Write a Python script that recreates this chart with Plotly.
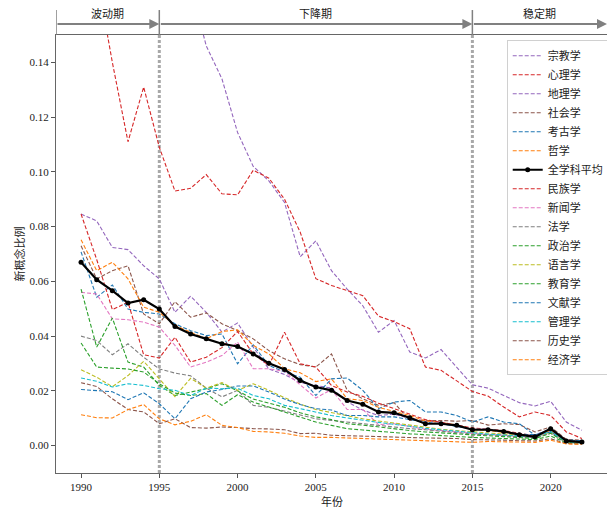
import plotly.graph_objects as go

years = list(range(1990, 2023))

宗教学 = [0.30, 0.29, 0.28, 0.27, 0.25, 0.23, 0.21, 0.168, 0.146, 0.134, 0.1144, 0.102, 0.0967, 0.0888, 0.069, 0.0748, 0.0639, 0.0572, 0.0511, 0.0414, 0.0457, 0.0342, 0.032, 0.0351, 0.0287, 0.0222, 0.021, 0.0183, 0.0157, 0.0145, 0.0162, 0.0086, 0.0056]
心理学 = [0.200, 0.172, 0.140, 0.111, 0.131, 0.109, 0.093, 0.094, 0.099, 0.092, 0.0916, 0.1006, 0.0977, 0.090, 0.078, 0.061, 0.0585, 0.0566, 0.0548, 0.0473, 0.0453, 0.0427, 0.0287, 0.0275, 0.0238, 0.0198, 0.0181, 0.0141, 0.0105, 0.0123, 0.011, 0.005, 0.0026]
地理学 = [0.0846, 0.0821, 0.0724, 0.0716, 0.0657, 0.0609, 0.0487, 0.0546, 0.0487, 0.0415, 0.0448, 0.036, 0.028, 0.026, 0.023, 0.022, 0.021, 0.016, 0.013, 0.011, 0.0115, 0.010, 0.009, 0.0085, 0.007, 0.006, 0.006, 0.005, 0.004, 0.004, 0.006, 0.002, 0.0015]
社会学 = [0.073, 0.0609, 0.0639, 0.0657, 0.0481, 0.0445, 0.0526, 0.0469, 0.0485, 0.0445, 0.042, 0.039, 0.0347, 0.0317, 0.0296, 0.0287, 0.0335, 0.0202, 0.0171, 0.0147, 0.0157, 0.0092, 0.0092, 0.0092, 0.0089, 0.0092, 0.0075, 0.008, 0.0077, 0.005, 0.0068, 0.0023, 0.002]
考古学 = [0.0708, 0.0542, 0.0587, 0.0499, 0.0487, 0.0481, 0.0445, 0.042, 0.0402, 0.0408, 0.0299, 0.0368, 0.0293, 0.0269, 0.025, 0.0183, 0.0244, 0.0247, 0.0202, 0.0135, 0.0159, 0.0165, 0.0123, 0.0123, 0.011, 0.0086, 0.0105, 0.0086, 0.008, 0.0038, 0.006, 0.002, 0.0018]
哲学 = [0.0752, 0.0639, 0.067, 0.0609, 0.0506, 0.0487, 0.0439, 0.0414, 0.039, 0.0417, 0.0423, 0.0366, 0.0335, 0.0281, 0.0266, 0.0234, 0.0244, 0.0171, 0.0165, 0.014, 0.0125, 0.011, 0.009, 0.0085, 0.0075, 0.006, 0.0055, 0.0048, 0.004, 0.0035, 0.0055, 0.002, 0.0012]
全学科平均 = [0.067, 0.0606, 0.0566, 0.0521, 0.0533, 0.0499, 0.0435, 0.0408, 0.039, 0.0372, 0.0362, 0.0335, 0.0301, 0.0278, 0.0238, 0.0214, 0.0202, 0.0165, 0.0151, 0.0123, 0.012, 0.0102, 0.008, 0.008, 0.0074, 0.0058, 0.0058, 0.0052, 0.004, 0.0032, 0.0062, 0.0017, 0.0013]
民族学 = [0.0846, 0.068, 0.0497, 0.0524, 0.0332, 0.032, 0.0396, 0.0305, 0.0323, 0.0358, 0.0417, 0.0335, 0.0293, 0.0414, 0.0299, 0.0287, 0.022, 0.0196, 0.018, 0.0155, 0.0135, 0.0115, 0.0095, 0.0085, 0.0075, 0.0065, 0.006, 0.0055, 0.0045, 0.0035, 0.006, 0.002, 0.0012]
新闻学 = [0.056, 0.0554, 0.0463, 0.046, 0.0451, 0.0433, 0.0366, 0.0287, 0.0305, 0.0329, 0.0378, 0.0281, 0.0281, 0.0271, 0.0222, 0.0174, 0.0205, 0.0132, 0.0132, 0.0077, 0.008, 0.007, 0.006, 0.0055, 0.005, 0.0045, 0.004, 0.0038, 0.0032, 0.003, 0.005, 0.0015, 0.001]
法学 = [0.040, 0.0384, 0.0332, 0.0372, 0.0323, 0.028, 0.0265, 0.0255, 0.021, 0.0178, 0.0202, 0.0147, 0.014, 0.0125, 0.0112, 0.0098, 0.0092, 0.0085, 0.0078, 0.0072, 0.0068, 0.0062, 0.0058, 0.0052, 0.0048, 0.0042, 0.004, 0.0036, 0.0032, 0.003, 0.0045, 0.0012, 0.001]
政治学 = [0.0572, 0.036, 0.0466, 0.0305, 0.0287, 0.022, 0.0183, 0.0196, 0.0208, 0.0226, 0.020, 0.017, 0.0155, 0.014, 0.012, 0.0105, 0.0095, 0.008, 0.0075, 0.0068, 0.006, 0.0055, 0.005, 0.0046, 0.0042, 0.0038, 0.0036, 0.0033, 0.003, 0.0026, 0.0045, 0.0012, 0.001]
语言学 = [0.0277, 0.025, 0.0215, 0.0256, 0.0308, 0.0244, 0.0179, 0.0246, 0.021, 0.023, 0.0202, 0.0226, 0.0202, 0.0175, 0.0152, 0.0132, 0.012, 0.0108, 0.0098, 0.009, 0.0082, 0.0075, 0.0068, 0.006, 0.0055, 0.005, 0.0046, 0.0042, 0.0038, 0.0034, 0.005, 0.0015, 0.0012]
教育学 = [0.0375, 0.0287, 0.0283, 0.028, 0.0269, 0.0226, 0.0192, 0.0183, 0.019, 0.0147, 0.0186, 0.0159, 0.0141, 0.0123, 0.0104, 0.0086, 0.0074, 0.0062, 0.0057, 0.0052, 0.0047, 0.0043, 0.004, 0.0036, 0.0033, 0.003, 0.0028, 0.0026, 0.0024, 0.0022, 0.0035, 0.001, 0.0008]
文献学 = [0.0205, 0.0201, 0.0197, 0.0168, 0.0193, 0.0153, 0.0098, 0.0171, 0.0196, 0.0205, 0.0218, 0.0218, 0.0196, 0.017, 0.015, 0.0135, 0.013, 0.011, 0.011, 0.0105, 0.0105, 0.0095, 0.0085, 0.008, 0.007, 0.006, 0.006, 0.005, 0.0042, 0.004, 0.005, 0.002, 0.0018]
管理学 = [0.0247, 0.0235, 0.0214, 0.0226, 0.022, 0.0208, 0.0202, 0.0183, 0.021, 0.0208, 0.021, 0.0183, 0.0171, 0.0147, 0.0135, 0.0123, 0.011, 0.0101, 0.0092, 0.0085, 0.0078, 0.007, 0.0063, 0.0058, 0.0052, 0.0046, 0.0042, 0.0039, 0.0035, 0.0032, 0.0052, 0.0014, 0.0011]
历史学 = [0.023, 0.0216, 0.0171, 0.0132, 0.0123, 0.008, 0.0098, 0.0066, 0.0064, 0.0068, 0.0066, 0.0062, 0.0061, 0.0058, 0.0044, 0.0045, 0.0038, 0.0036, 0.0034, 0.0032, 0.003, 0.0029, 0.0028, 0.0027, 0.0026, 0.0022, 0.0022, 0.002, 0.0018, 0.0017, 0.0025, 0.0008, 0.0006]
经济学 = [0.0113, 0.0102, 0.0101, 0.0132, 0.015, 0.0098, 0.0076, 0.0089, 0.0113, 0.0074, 0.0066, 0.0052, 0.005, 0.0045, 0.0035, 0.003, 0.003, 0.0028, 0.0026, 0.0024, 0.0022, 0.002, 0.0019, 0.0018, 0.0016, 0.0012, 0.0015, 0.0014, 0.0013, 0.0012, 0.002, 0.0006, 0.0005]

subjects = [
    ("宗教学", 宗教学, "#9467bd"),
    ("心理学", 心理学, "#d62728"),
    ("地理学", 地理学, "#9467bd"),
    ("社会学", 社会学, "#8c564b"),
    ("考古学", 考古学, "#1f77b4"),
    ("哲学", 哲学, "#ff7f0e"),
    ("全学科平均", 全学科平均, "#000000"),
    ("民族学", 民族学, "#d62728"),
    ("新闻学", 新闻学, "#e377c2"),
    ("法学", 法学, "#7f7f7f"),
    ("政治学", 政治学, "#2ca02c"),
    ("语言学", 语言学, "#bcbd22"),
    ("教育学", 教育学, "#2ca02c"),
    ("文献学", 文献学, "#1f77b4"),
    ("管理学", 管理学, "#17becf"),
    ("历史学", 历史学, "#8c564b"),
    ("经济学", 经济学, "#ff7f0e"),
]

periods = ["波动期", "下降期", "稳定期"]
period_bounds = [1988.4, 1995, 2015, 2023.6]

FONT = "'Liberation Serif', 'Times New Roman', 'Noto Sans CJK SC', serif"

fig = go.Figure()
avg_item = None
for rank, (name, vals, color) in enumerate(subjects):
    if name == "全学科平均":
        avg_item = (rank, name, vals, color)
        continue
    fig.add_trace(go.Scatter(
        x=years, y=vals, name=name, mode="lines",
        line=dict(color=color, width=1.1, dash="4px,2px"),
        legendrank=rank + 1,
    ))
rank, name, vals, color = avg_item
fig.add_trace(go.Scatter(
    x=years, y=vals, name=name, mode="lines+markers",
    line=dict(color=color, width=2.2),
    marker=dict(size=5, color=color),
    legendrank=rank + 1,
))

# dotted period separators
for xv in [1995, 2015]:
    fig.add_shape(type="line", xref="x", yref="paper", x0=xv, x1=xv, y0=0, y1=1,
                  line=dict(color="#a8a8a8", width=3, dash="3px,2px"), layer="below")

# top period bars, arrows and labels
bar_top = 1.057
arrow_y = 1.025
for xv in period_bounds[:3]:
    fig.add_shape(type="line", xref="x", yref="paper", x0=xv, x1=xv, y0=1.0, y1=bar_top,
                  line=dict(color="#808080", width=1.5))
for i, label in enumerate(periods):
    x0, x1 = period_bounds[i], period_bounds[i + 1]
    fig.add_annotation(x=x1, y=arrow_y, xref="x", yref="paper",
                       ax=x0, ay=0, axref="x", ayref="pixel",
                       text="", showarrow=True, arrowhead=2, arrowsize=1,
                       arrowwidth=2, arrowcolor="#808080", standoff=0, startstandoff=0)
    fig.add_annotation(x=(x0 + x1) / 2, y=1.049, xref="x", yref="paper",
                       text=label, showarrow=False, yanchor="middle",
                       font=dict(family=FONT, size=11, color="#222222"))

# axis titles
fig.add_annotation(x=0.5, y=-0.066, xref="paper", yref="paper", text="年份",
                   showarrow=False, yanchor="middle",
                   font=dict(family=FONT, size=11, color="#222222"))
fig.add_annotation(x=-0.068, y=0.5, xref="paper", yref="paper", text="新概念比例",
                   showarrow=False, textangle=-90, xanchor="center",
                   font=dict(family=FONT, size=11, color="#222222"))

fig.update_layout(
    width=607, height=509,
    margin=dict(l=56, r=0, t=35, b=36, autoexpand=False),
    paper_bgcolor="white", plot_bgcolor="white",
    font=dict(family=FONT, size=11, color="#222222"),
    showlegend=True,
    legend=dict(
        x=0.818, y=0.988, xanchor="left", yanchor="top",
        bgcolor="rgba(255,255,255,0.85)", bordercolor="#d0d0d0", borderwidth=1,
        font=dict(family=FONT, size=11, color="#222222"),
        itemwidth=30, tracegroupgap=0,
    ),
    xaxis=dict(
        range=[1988.4, 2023.6], tickmode="array",
        tickvals=[1990, 1995, 2000, 2005, 2010, 2015, 2020],
        ticks="outside", ticklen=4, tickcolor="#555555",
        showline=True, linecolor="#666666", linewidth=1, mirror=True,
        showgrid=False, zeroline=False, automargin=False,
        tickfont=dict(family=FONT, size=11),
    ),
    yaxis=dict(
        range=[-0.01, 0.15], tickmode="array",
        tickvals=[0.0, 0.02, 0.04, 0.06, 0.08, 0.10, 0.12, 0.14],
        tickformat=".2f",
        ticks="outside", ticklen=4, tickcolor="#555555",
        showline=True, linecolor="#666666", linewidth=1,
        showgrid=False, zeroline=False, automargin=False,
        tickfont=dict(family=FONT, size=11),
    ),
)

fig.write_html("out.html", config={"displayModeBar": False})

# remove the browser's default page margin so the figure sits at the window origin
with open("out.html", "r", encoding="utf-8") as f:
    html = f.read()
html = html.replace("<body>", '<body style="margin:0;padding:0;overflow:hidden;">', 1)
with open("out.html", "w", encoding="utf-8") as f:
    f.write(html)
